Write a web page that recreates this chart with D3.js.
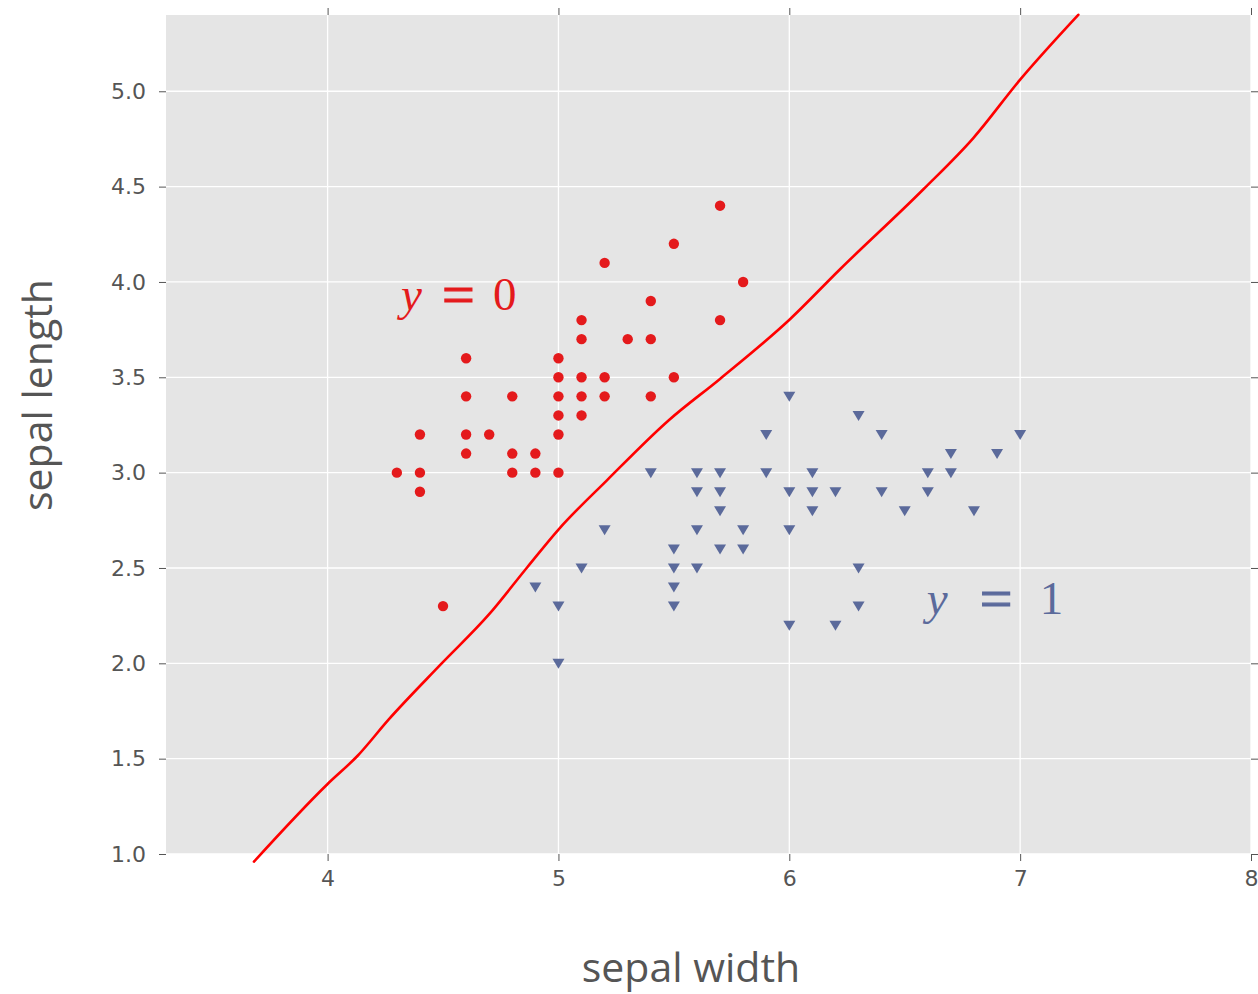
<!DOCTYPE html>
<html>
<head>
<meta charset="utf-8">
<script src="https://cdn.jsdelivr.net/npm/d3@7"></script>
<style>
  html, body { margin: 0; padding: 0; background: #fff; }
  svg { display: block; }
</style>
</head>
<body>
<svg id="chart" width="1258" height="994"></svg>
<script>
// ---- data ----
const class0X = [4.3,4.4,4.4,4.4,4.5,4.6,4.6,4.6,4.6,4.7,4.8,4.8,4.8,4.9,4.9,5.0,5.0,5.0,5.0,5.0,5.0,5.1,5.1,5.1,5.1,5.1,5.2,5.2,5.2,5.3,5.4,5.4,5.4,5.5,5.5,5.7,5.7,5.8];
const class0Y = [3.0,3.2,3.0,2.9,2.3,3.6,3.4,3.2,3.1,3.2,3.4,3.1,3.0,3.1,3.0,3.6,3.5,3.4,3.3,3.2,3.0,3.8,3.7,3.5,3.4,3.3,4.1,3.5,3.4,3.7,3.9,3.7,3.4,4.2,3.5,4.4,3.8,4.0];

const class1X = [6.0,6.3,5.9,6.4,7.0,6.7,6.9,5.4,5.6,5.7,5.9,6.1,6.6,6.7,5.6,5.7,6.0,6.1,6.2,6.4,6.6,5.7,6.1,6.5,6.8,5.2,5.6,5.8,6.0,5.5,5.7,5.8,5.1,5.5,5.6,6.3,4.9,5.5,5.0,5.5,6.3,6.0,6.2,5.0];
const class1Y = [3.4,3.3,3.2,3.2,3.2,3.1,3.1,3.0,3.0,3.0,3.0,3.0,3.0,3.0,2.9,2.9,2.9,2.9,2.9,2.9,2.9,2.8,2.8,2.8,2.8,2.7,2.7,2.7,2.7,2.6,2.6,2.6,2.5,2.5,2.5,2.5,2.4,2.4,2.3,2.3,2.3,2.2,2.2,2.0];

const boundaryX = [3.681,3.999,4.129,4.265,4.489,4.698,4.865,5.001,5.211,5.478,5.701,6.004,6.221,6.581,6.798,7.0,7.252];
const boundaryY = [0.960,1.366,1.514,1.706,1.993,2.255,2.504,2.703,2.961,3.275,3.493,3.806,4.068,4.486,4.756,5.061,5.401];

const xTicks = [4,5,6,7,8];
const yTicks = [1.0,1.5,2.0,2.5,3.0,3.5,4.0,4.5,5.0];
const xDomain = [3.3, 8.0];
const yDomain = [1.0, 5.4];

const xLabel = "sepal width";
const yLabel = "sepal length";
const annot0 = ["y", "=", "0"];
const annot1 = ["y", "=", "1"];
const annot0Pos = [4.318, 3.853];
const annot1Pos = [6.595, 2.26];

// ---- layout ----
const svg = d3.select("#chart");
const L = 166, R = 1251, T = 15, B = 854;
const x = d3.scaleLinear().domain(xDomain).range([L, R]);
const y = d3.scaleLinear().domain(yDomain).range([B, T]);

const red = "#e41a1c", blue = "#5b6a9b", textCol = "#555555";

svg.append("rect").attr("x", L).attr("y", T).attr("width", R - L).attr("height", B - T).attr("fill", "#e5e5e5");

// grid
const g = svg.append("g");
g.selectAll(".gx").data(xTicks).join("line")
  .attr("x1", d => x(d)).attr("x2", d => x(d)).attr("y1", T).attr("y2", B)
  .attr("stroke", "#fff").attr("stroke-width", 1.3);
g.selectAll(".gy").data(yTicks).join("line")
  .attr("y1", d => y(d)).attr("y2", d => y(d)).attr("x1", L).attr("x2", R)
  .attr("stroke", "#fff").attr("stroke-width", 1.3);

// axes
function styleAxis(sel, labels) {
  sel.select(".domain").remove();
  sel.selectAll(".tick line").attr("stroke", textCol).attr("stroke-width", 1);
  sel.selectAll(".tick text").attr("fill", textCol)
    .style("font-family", "'DejaVu Sans', sans-serif").style("font-size", "22px");
  if (!labels) sel.selectAll(".tick text").remove();
}
svg.append("g").attr("transform", `translate(0,${B})`)
  .call(d3.axisBottom(x).tickValues(xTicks).tickSize(7).tickPadding(9).tickFormat(d3.format("d")))
  .call(s => styleAxis(s, true));
svg.append("g").attr("transform", `translate(0,${T})`)
  .call(d3.axisTop(x).tickValues(xTicks).tickSize(7))
  .call(s => styleAxis(s, false));
svg.append("g").attr("transform", `translate(${L},0)`)
  .call(d3.axisLeft(y).tickValues(yTicks).tickSize(7).tickPadding(13).tickFormat(d3.format(".1f")))
  .call(s => styleAxis(s, true));
svg.append("g").attr("transform", `translate(${R},0)`)
  .call(d3.axisRight(y).tickValues(yTicks).tickSize(7))
  .call(s => styleAxis(s, false));

// points class 0
const pts0 = class0X.map((v, i) => [v, class0Y[i]]);
svg.append("g").selectAll("circle").data(pts0).join("circle")
  .attr("cx", d => x(d[0])).attr("cy", d => y(d[1])).attr("r", 5.2).attr("fill", red);

// points class 1 (down triangles)
const pts1 = class1X.map((v, i) => [v, class1Y[i]]);
const tri = "M-6,-4.5L6,-4.5L0,5.5Z";
svg.append("g").selectAll("path").data(pts1).join("path")
  .attr("transform", d => `translate(${x(d[0])},${y(d[1])})`)
  .attr("d", tri).attr("fill", blue);

// decision boundary
const bnd = boundaryX.map((v, i) => [v, boundaryY[i]]);
svg.append("path").datum(bnd)
  .attr("d", d3.line().x(d => x(d[0])).y(d => y(d[1])).curve(d3.curveMonotoneX))
  .attr("fill", "none").attr("stroke", "#ff0000").attr("stroke-width", 2.6).attr("stroke-linecap", "round");

// annotations
function annot(parts, pos, color, offsets) {
  const a = svg.append("g").attr("transform", `translate(${x(pos[0])},${y(pos[1])})`);
  parts.forEach((p, i) => {
    const t = a.append("text").attr("x", offsets[i]).attr("y", i === 1 ? 4 : 0).text(p)
      .attr("fill", color)
      .style("font-family", "'Liberation Serif', 'DejaVu Serif', serif")
      .style("font-style", i === 0 ? "italic" : "normal")
      .style("font-size", i === 1 ? "58px" : "47px");
    if (i === 1) t.attr("stroke", color).attr("stroke-width", 1.2);
  });
}
annot(annot0, annot0Pos, red, [0, 41, 92]);
annot(annot1, annot1Pos, blue, [0, 53, 113]);

// axis labels
svg.append("text").attr("x", 691).attr("y", 982).attr("text-anchor", "middle")
  .text(xLabel).attr("fill", textCol)
  .style("font-family", "'Open Sans', sans-serif").style("font-size", "41px");
svg.append("text").attr("transform", `translate(52,395) rotate(-90)`).attr("text-anchor", "middle")
  .text(yLabel).attr("fill", textCol)
  .style("font-family", "'Open Sans', sans-serif").style("font-size", "41px");
</script>
</body>
</html>
